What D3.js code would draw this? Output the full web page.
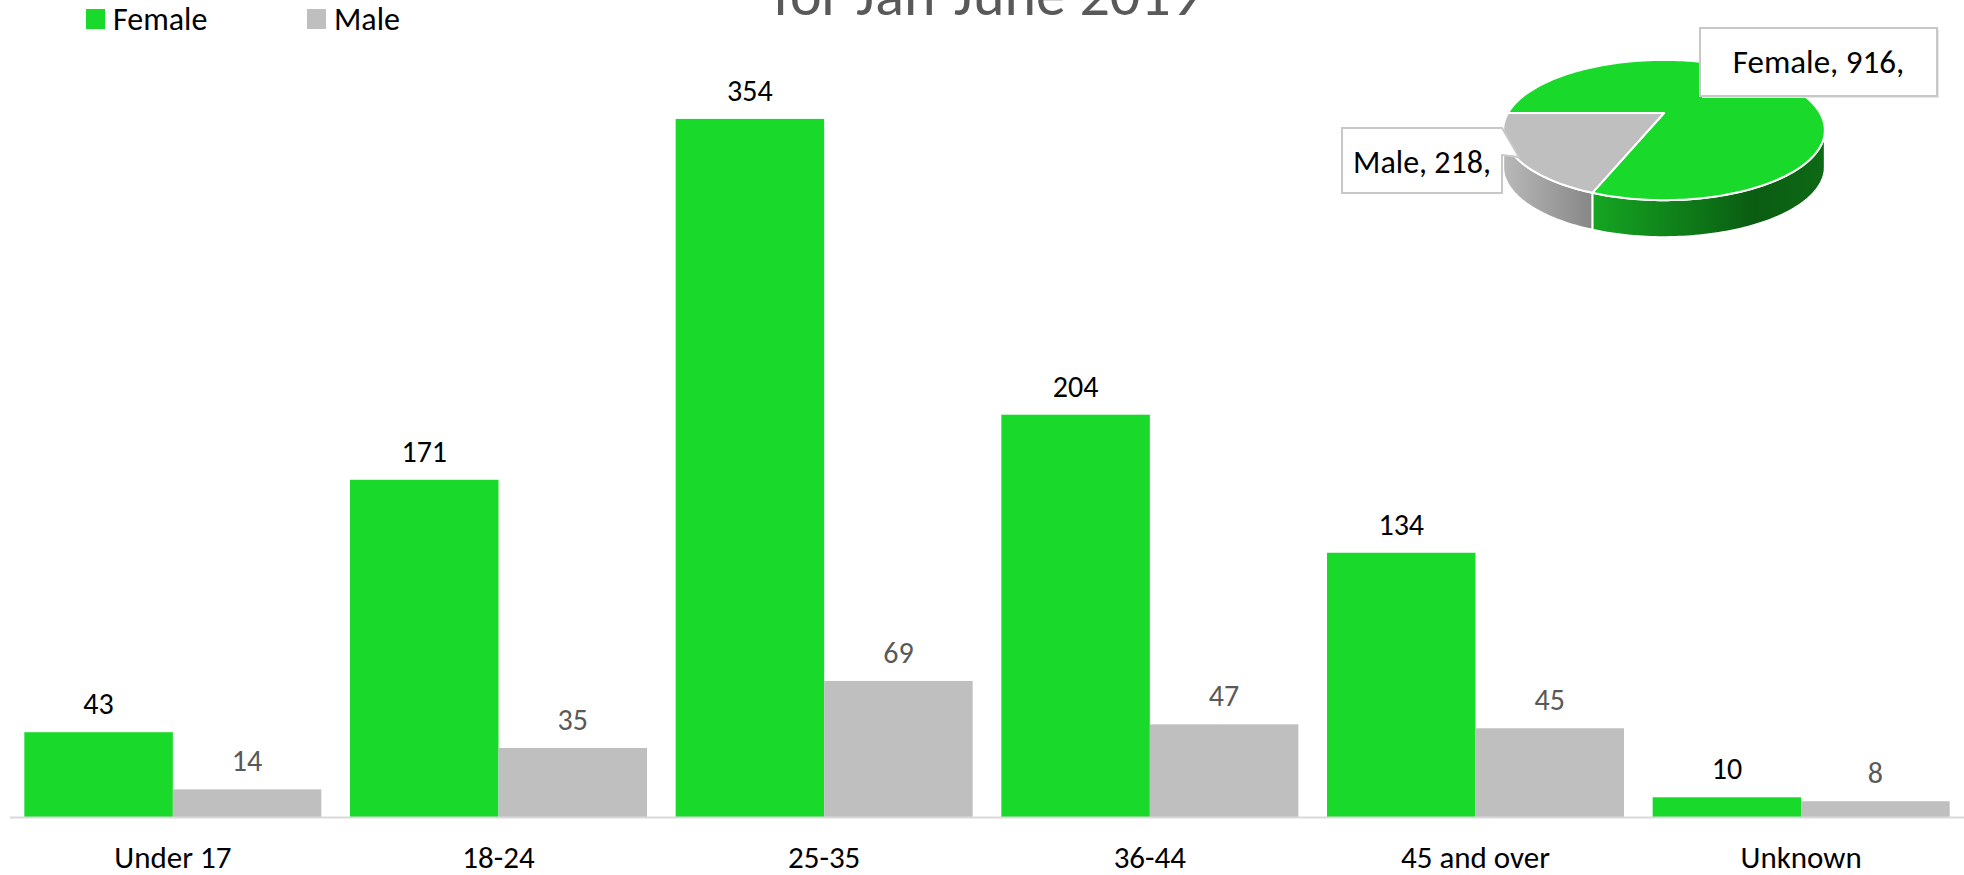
<!DOCTYPE html>
<html>
<head>
<meta charset="utf-8">
<script src="https://cdn.jsdelivr.net/npm/d3@7/dist/d3.min.js"></script>
<style>
  html, body { margin: 0; padding: 0; background: #fff; }
  svg { display: block; font-family: Carlito, Calibri, Lato, sans-serif; }
</style>
</head>
<body>
<svg id="chart" width="1964" height="875"></svg>
<script>
const categories = ["Under 17", "18-24", "25-35", "36-44", "45 and over", "Unknown"];
const femaleValues = [43, 171, 354, 204, 134, 10];
const maleValues = [14, 35, 69, 47, 45, 8];
const seriesNames = ["Female", "Male"];
const titleText = "for Jan-June 2019";

const COLORS = { Female: "#19d92b", Male: "#bfbfbf" };

const svg = d3.select("#chart");

// ---------- bar chart ----------
const baseY = 817;
const x0 = d3.scaleBand().domain(categories).range([10, 1964]).paddingInner(0.088).paddingOuter(0.044);
const x1 = d3.scaleBand().domain(seriesNames).range([0, x0.bandwidth()]);
const y = d3.scaleLinear().domain([0, 400]).range([baseY, baseY - 400 * 1.972]);

const rows = categories.map((c, i) => ({ cat: c, Female: femaleValues[i], Male: maleValues[i] }));

const groups = svg.append("g").selectAll("g").data(rows).join("g")
  .attr("transform", d => `translate(${x0(d.cat)},0)`);

groups.selectAll("rect").data(d => seriesNames.map(s => ({ s, v: d[s] }))).join("rect")
  .attr("x", d => x1(d.s))
  .attr("width", x1.bandwidth())
  .attr("y", d => y(d.v))
  .attr("height", d => y(0) - y(d.v))
  .attr("fill", d => COLORS[d.s]);

groups.selectAll("text.val").data(d => seriesNames.map(s => ({ s, v: d[s] }))).join("text")
  .attr("class", "val")
  .attr("x", d => x1(d.s) + x1.bandwidth() / 2)
  .attr("y", d => y(d.v) - 18)
  .attr("text-anchor", "middle")
  .attr("font-size", 30)
  .attr("fill", d => d.s === "Female" ? "#000" : "#595959")
  .text(d => d.v);

// axis
const xAxis = d3.axisBottom(x0).tickSize(0).tickPadding(0);
const axisG = svg.append("g").attr("transform", `translate(0,${baseY})`).call(xAxis);
axisG.select(".domain").attr("stroke", "#d9d9d9").attr("stroke-width", 2).attr("d", "M10,0.5H1964");
axisG.selectAll(".tick text")
  .attr("y", 51).attr("dy", 0)
  .attr("font-size", 31)
  .attr("font-family", "Carlito, Calibri, Lato, sans-serif")
  .attr("fill", "#000");

// ---------- title ----------
svg.append("text")
  .attr("x", 987).attr("y", 15)
  .attr("text-anchor", "middle")
  .attr("font-size", 60)
  .attr("fill", "#595959")
  .text(titleText);

// ---------- legend ----------
const legendX = [86, 307];
const legend = svg.append("g").selectAll("g").data(seriesNames).join("g")
  .attr("transform", (d, i) => `translate(${legendX[i]},9)`);
legend.append("rect").attr("width", 19).attr("height", 20).attr("fill", d => COLORS[d]);
legend.append("text").attr("x", 27).attr("y", 21).attr("font-size", 32).attr("fill", "#000").text(d => d);

// ---------- 3D pie (perspective-projected disc) ----------
const pieValues = [d3.sum(femaleValues), d3.sum(maleValues)];
const pieData = d3.pie().sort(null).startAngle(-Math.PI / 2).endAngle(1.5 * Math.PI)(pieValues);
const cx = 1664, cy = 113, R = 156, Ry = 66, k = 0.243, depth = 37;
const pt = (a, dy = 0) => {
  const w = 1 + k * Math.cos(a);
  return [cx + R * Math.sin(a) / w, cy - Ry * Math.cos(a) / w + dy];
};
const arcPts = (a0, a1, dy = 0) => {
  const n = Math.max(8, Math.ceil(Math.abs(a1 - a0) / 0.02));
  return d3.range(n + 1).map(i => pt(a0 + (a1 - a0) * i / n, dy));
};
const line = d3.line();

const defs = svg.append("defs");
const gF = defs.append("linearGradient").attr("id", "sideF").attr("gradientUnits", "userSpaceOnUse")
  .attr("x1", 1592).attr("x2", 1825).attr("y1", 0).attr("y2", 0);
gF.append("stop").attr("offset", "0").attr("stop-color", "#15a622");
gF.append("stop").attr("offset", "0.7").attr("stop-color", "#0a5c12");
gF.append("stop").attr("offset", "1").attr("stop-color", "#0d6a15");
const gM = defs.append("linearGradient").attr("id", "sideM").attr("gradientUnits", "userSpaceOnUse")
  .attr("x1", 1505).attr("x2", 1595).attr("y1", 0).attr("y2", 0);
gM.append("stop").attr("offset", "0").attr("stop-color", "#b8b8b8");
gM.append("stop").attr("offset", "1").attr("stop-color", "#858585");
const sideFill = ["url(#sideF)", "url(#sideM)"];

const pieG = svg.append("g");
const visLo = Math.acos(-k), visHi = 2 * Math.PI - Math.acos(-k);
pieData.forEach((d, i) => {
  const s0 = Math.max(d.startAngle, visLo);
  const s1 = Math.min(d.endAngle, visHi);
  if (s1 <= s0) return;
  const pts = arcPts(s0, s1).concat(arcPts(s1, s0, depth));
  pieG.append("path").attr("d", line(pts) + "Z").attr("fill", sideFill[i])
    .attr("stroke", "#fff").attr("stroke-width", 2).attr("stroke-linejoin", "round");
});
pieData.forEach((d, i) => {
  const pts = [[cx, cy]].concat(arcPts(d.startAngle, d.endAngle));
  pieG.append("path").attr("d", line(pts) + "Z").attr("fill", COLORS[seriesNames[i]])
    .attr("stroke", "#fff").attr("stroke-width", 2).attr("stroke-linejoin", "round");
});

// data label callouts
const fb = { x: 1700, y: 28, w: 237, h: 68 };
pieG.append("rect").attr("x", fb.x + 2).attr("y", fb.y + 2)
  .attr("width", fb.w).attr("height", fb.h).attr("fill", "#e6e6e6");
pieG.append("rect").attr("x", fb.x).attr("y", fb.y)
  .attr("width", fb.w).attr("height", fb.h)
  .attr("fill", "#fff").attr("stroke", "#c8c8c8").attr("stroke-width", 2);
pieG.append("text").attr("x", fb.x + fb.w / 2).attr("y", 73)
  .attr("text-anchor", "middle").attr("font-size", 33).attr("fill", "#000")
  .text(`${seriesNames[0]}, ${pieValues[0]},`);

const mb = { x: 1342, y: 128, w: 160, h: 65 };
const calloutPath = `M${mb.x},${mb.y}H${mb.x + mb.w}L${mb.x + mb.w + 17},${mb.y + 29}L${mb.x + mb.w},${mb.y + 27}V${mb.y + mb.h}H${mb.x}Z`;
pieG.append("path").attr("d", calloutPath)
  .attr("fill", "#fff").attr("stroke", "#c8c8c8").attr("stroke-width", 2);
pieG.append("text").attr("x", mb.x + mb.w / 2).attr("y", 173)
  .attr("text-anchor", "middle").attr("font-size", 32).attr("fill", "#000")
  .text(`${seriesNames[1]}, ${pieValues[1]},`);
</script>
</body>
</html>
